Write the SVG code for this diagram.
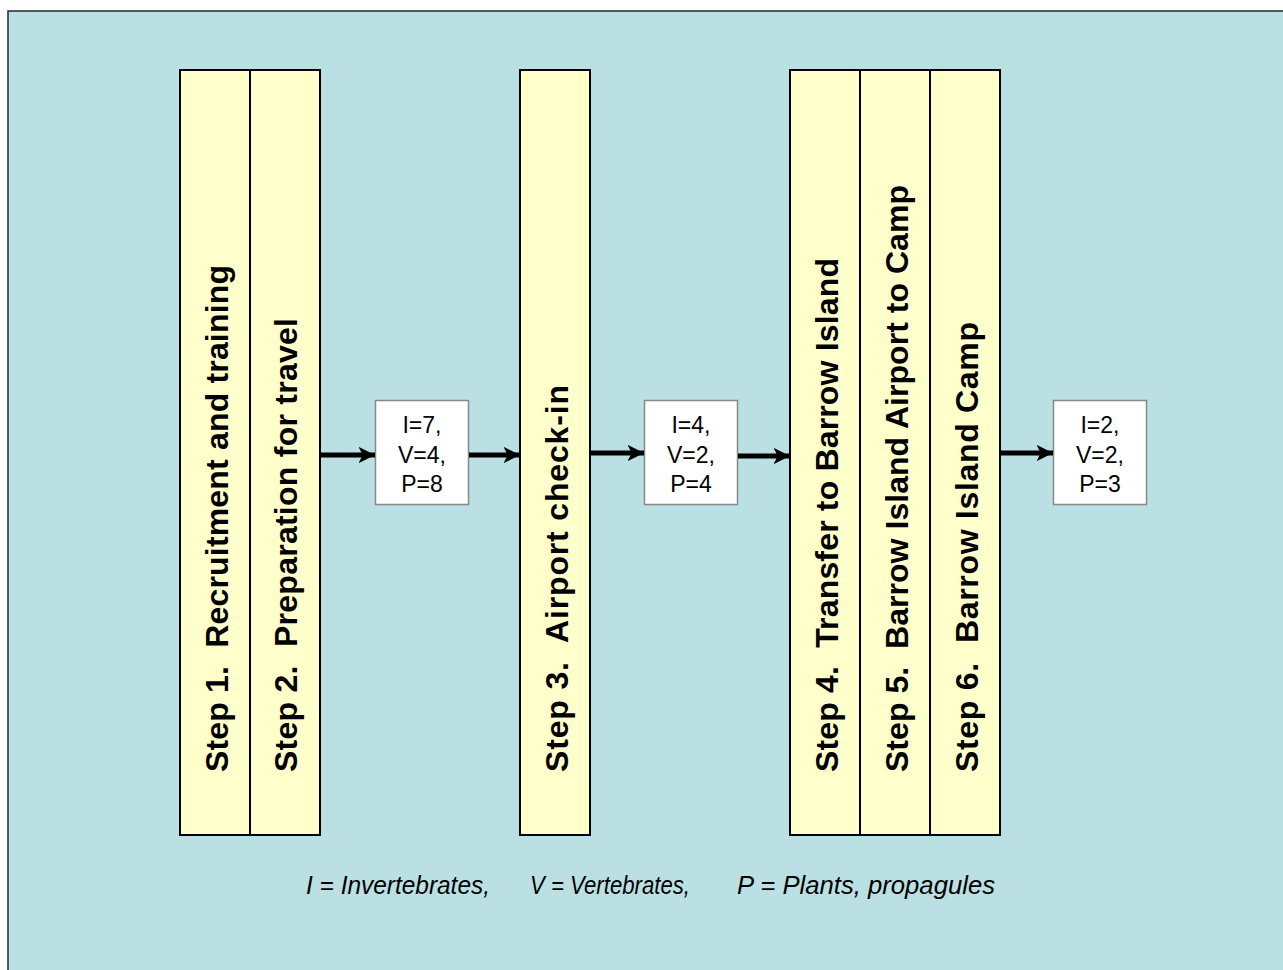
<svg xmlns="http://www.w3.org/2000/svg" width="1283" height="970" viewBox="0 0 1283 970">
  <style>
    .step rect { fill: #FFFFCC; stroke: #000000; stroke-width: 2; }
    .step text { font-family: "Liberation Sans", Arial, sans-serif; font-weight: bold; font-size: 32px; fill: #000000; white-space: pre; }
    .count rect { fill: #FFFFFF; stroke: #888888; stroke-width: 1.5; }
    .count text { font-family: "Liberation Sans", Arial, sans-serif; font-size: 23px; fill: #000000; text-anchor: middle; }
    .flow line { stroke: #000000; stroke-width: 5; marker-end: url(#head); }
    .legend { font-family: "Liberation Sans", Arial, sans-serif; font-style: italic; font-size: 26px; fill: #000000; }
  </style>
  <defs>
    <marker id="head" viewBox="0 0 10 10" refX="10" refY="5" markerWidth="3.3" markerHeight="3.3" orient="auto" markerUnits="strokeWidth">
      <path d="M0,0 L10,5 L0,10 L2.5,5 Z" fill="#000000"/>
    </marker>
  </defs>

  <!-- page and panel -->
  <rect x="0" y="0" width="1283" height="970" fill="#FFFFFF"/>
  <rect x="8" y="11" width="1280" height="965" fill="#BBE0E3" stroke="#1E2A2C" stroke-width="1.5"/>

  <!-- process steps -->
  <g id="step1" class="step">
    <rect x="180" y="70" width="70" height="765"/>
    <text xml:space="preserve" transform="translate(228,772) rotate(-90)" textLength="507">Step 1.  Recruitment and training</text>
  </g>
  <g id="step2" class="step">
    <rect x="250" y="70" width="70" height="765"/>
    <text xml:space="preserve" transform="translate(297,772) rotate(-90)" textLength="454">Step 2.  Preparation for travel</text>
  </g>
  <g id="step3" class="step">
    <rect x="520" y="70" width="70" height="765"/>
    <text xml:space="preserve" transform="translate(568,772) rotate(-90)" textLength="387">Step 3.  Airport check-in</text>
  </g>
  <g id="step4" class="step">
    <rect x="790" y="70" width="70" height="765"/>
    <text xml:space="preserve" transform="translate(838,772) rotate(-90)" textLength="514">Step 4.  Transfer to Barrow Island</text>
  </g>
  <g id="step5" class="step">
    <rect x="860" y="70" width="70" height="765"/>
    <text xml:space="preserve" transform="translate(908,772) rotate(-90)" textLength="587">Step 5.  Barrow Island Airport to Camp</text>
  </g>
  <g id="step6" class="step">
    <rect x="930" y="70" width="70" height="765"/>
    <text xml:space="preserve" transform="translate(978,772) rotate(-90)" textLength="450">Step 6.  Barrow Island Camp</text>
  </g>

  <!-- interception counts -->
  <g id="count1" class="count">
    <rect x="375.5" y="400.5" width="93" height="104"/>
    <text x="422" y="433">I=7,</text>
    <text x="422" y="463">V=4,</text>
    <text x="422" y="492">P=8</text>
  </g>
  <g id="count2" class="count">
    <rect x="644.5" y="400.5" width="93" height="104"/>
    <text x="691" y="433">I=4,</text>
    <text x="691" y="463">V=2,</text>
    <text x="691" y="492">P=4</text>
  </g>
  <g id="count3" class="count">
    <rect x="1053.5" y="400.5" width="93" height="104"/>
    <text x="1100" y="433">I=2,</text>
    <text x="1100" y="463">V=2,</text>
    <text x="1100" y="492">P=3</text>
  </g>

  <!-- connectors -->
  <g id="connectors" class="flow">
    <line x1="321" y1="455" x2="375" y2="455"/>
    <line x1="469" y1="455" x2="520" y2="455"/>
    <line x1="591" y1="453" x2="644" y2="453"/>
    <line x1="738" y1="456" x2="790" y2="456"/>
    <line x1="1001" y1="453" x2="1053" y2="453"/>
  </g>

  <!-- key -->
  <text class="legend" x="306" y="894" textLength="184" lengthAdjust="spacingAndGlyphs">I = Invertebrates,</text>
  <text class="legend" x="530" y="894" textLength="160" lengthAdjust="spacingAndGlyphs">V = Vertebrates,</text>
  <text class="legend" x="737" y="894" textLength="258" lengthAdjust="spacingAndGlyphs">P = Plants, propagules</text>
</svg>
